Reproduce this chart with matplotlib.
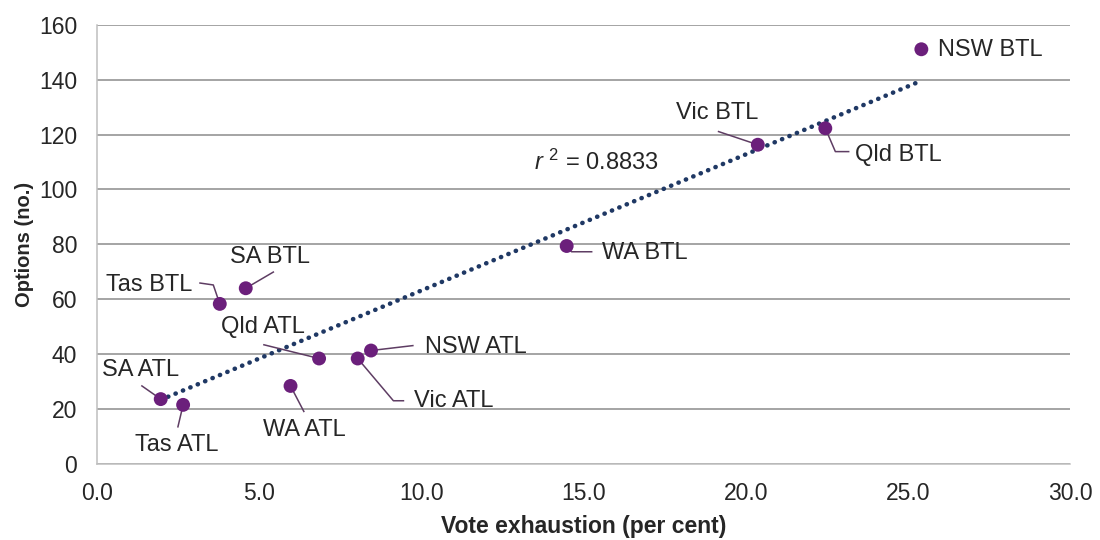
import numpy as np
import matplotlib
matplotlib.use("Agg")
import matplotlib.pyplot as plt

plt.rcParams['font.family'] = ['Liberation Sans', 'DejaVu Sans']
plt.rcParams['mathtext.fontset'] = 'custom'
plt.rcParams['mathtext.it'] = 'Liberation Sans:italic'
plt.rcParams['mathtext.rm'] = 'Liberation Sans'

# ---- data ----
labels = ["NSW BTL", "Vic BTL", "Qld BTL", "WA BTL", "SA BTL", "Tas BTL",
          "Qld ATL", "NSW ATL", "Vic ATL", "WA ATL", "SA ATL", "Tas ATL"]
exhaustion = [25.41, 20.37, 22.45, 14.48, 4.59, 3.79,
              6.85, 8.45, 8.04, 5.97, 1.97, 2.66]
options = [151.1, 116.3, 122.3, 79.4, 64.0, 58.3,
           38.4, 41.3, 38.4, 28.4, 23.6, 21.5]
x_ticks = [0, 5, 10, 15, 20, 25, 30]
y_ticks = [0, 20, 40, 60, 80, 100, 120, 140, 160]
r2_text = "0.8833"

# ---- label layout (text position, alignment, leader waypoints) ----
layout = {
    "NSW BTL": ((25.93, 151.0), "left", []),
    "Vic BTL": ((19.12, 127.9), "center", [(19.16, 121.1)]),
    "Qld BTL": ((23.37, 112.6), "left", [(23.17, 113.8), (22.76, 113.8)]),
    "WA BTL": ((15.56, 76.9), "left", [(15.25, 77.3), (14.63, 77.3)]),
    "SA BTL": ((5.33, 75.5), "center", [(5.44, 69.9)]),
    "Tas BTL": ((2.96, 65.2), "right", [(3.18, 65.9), (3.59, 65.2)]),
    "Qld ATL": ((5.11, 50.0), "center", [(5.15, 43.4)]),
    "NSW ATL": ((10.11, 42.5), "left", [(9.74, 43.1)]),
    "Vic ATL": ((9.76, 23.0), "left", [(9.45, 23.0), (9.14, 23.0)]),
    "WA ATL": ((6.41, 12.4), "center", [(6.38, 19.1)]),
    "SA ATL": ((1.36, 34.3), "center", [(1.39, 28.4)]),
    "Tas ATL": ((2.47, 6.9), "center", [(2.50, 13.5)]),
}

text_color = "#262626"
point_color = "#6b1f7b"
leader_color = "#5e3d63"
trend_color = "#1f3864"

fig = plt.figure(figsize=(11, 5.4), dpi=100)
ax = fig.add_axes([0.088, 0.141, 0.885, 0.813])

ax.set_xlim(0, 30)
ax.set_ylim(0, 160)
ax.set_xticks(x_ticks)
ax.set_xticklabels([f"{v:.1f}" for v in x_ticks])
ax.set_yticks(y_ticks)
ax.tick_params(length=0, labelsize=16.5, colors=text_color)
ax.tick_params(axis='x', pad=13)
ax.tick_params(axis='y', pad=14)

ax.grid(axis='y', color='#8c8c8c', linewidth=1.1)
ax.set_axisbelow(True)
for s in ['top', 'right']:
    ax.spines[s].set_visible(False)
for s in ['left', 'bottom']:
    ax.spines[s].set_color('#bfbfbf')
    ax.spines[s].set_linewidth(1.1)

# trend line
xs = np.array(exhaustion)
ys = np.array(options)
slope, intercept = np.polyfit(xs, ys, 1)
tx = np.array([xs.min(), xs.max()])
ax.plot(tx, slope * tx + intercept, color=trend_color, linewidth=3.3,
        linestyle=(0, (0.05, 1.7)), dash_capstyle='round', zorder=2)

# leaders and labels
for name, x, y in zip(labels, exhaustion, options):
    (lx, ly), ha, pts = layout[name]
    if pts:
        px = [p[0] for p in pts] + [x]
        py = [p[1] for p in pts] + [y]
        ax.plot(px, py, color=leader_color, linewidth=1.1, zorder=3)
    ax.text(lx, ly, name, ha=ha, va='center', fontsize=17, color=text_color, zorder=5)

ax.scatter(xs, ys, s=100, color=point_color, zorder=4, edgecolors='none')

ax.text(15.4, 110.0, r"$r$ $^{2}$ = " + r2_text, ha='center', va='center',
        fontsize=17, color=text_color)

ax.set_xlabel("Vote exhaustion (per cent)", fontsize=16.5, fontweight='bold',
              color=text_color, labelpad=7)
ax.set_ylabel("Options (no.)", fontsize=14.5, fontweight='bold',
              color=text_color, labelpad=4)

fig.savefig("out.png", dpi=100)
